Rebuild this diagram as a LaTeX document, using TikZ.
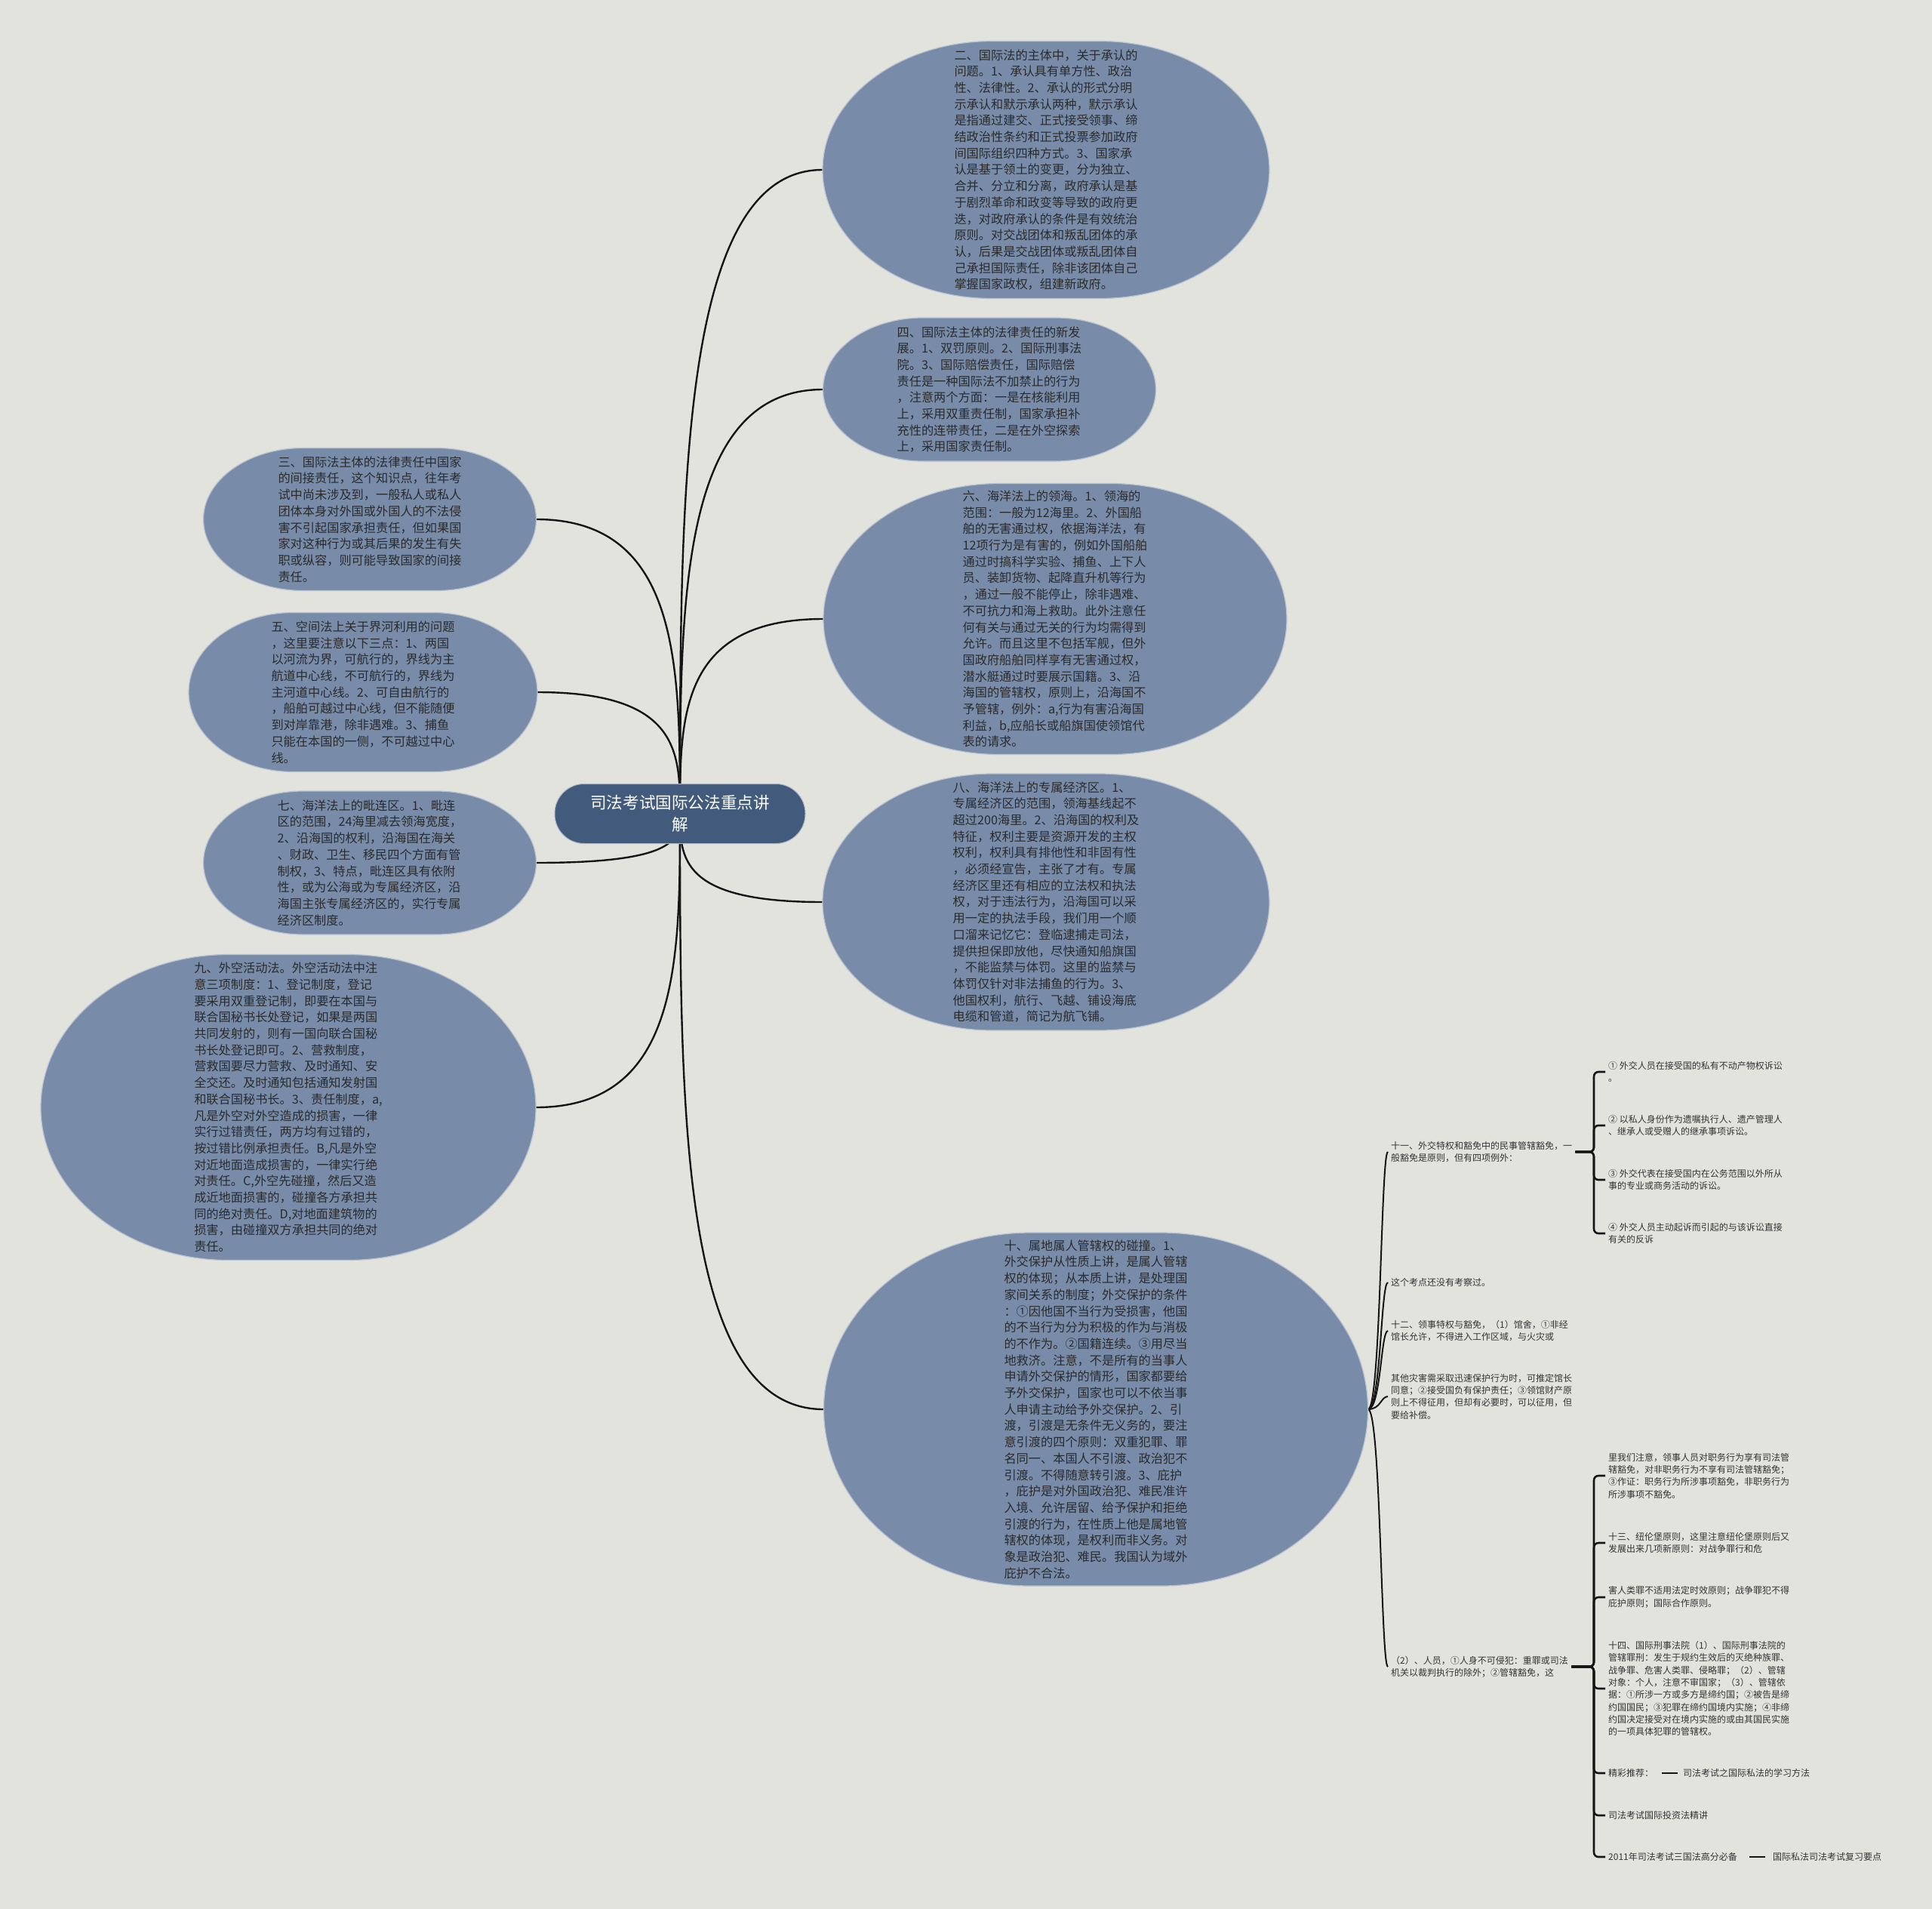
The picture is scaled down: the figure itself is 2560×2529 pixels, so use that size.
\documentclass[tikz,border=0pt]{standalone}
\usepackage{fontspec}
\setmainfont{Noto Sans CJK SC}
\usetikzlibrary{calc}
\pgfdeclarelayer{bgl}
\pgfdeclarelayer{back}
\pgfsetlayers{bgl,back,main}
\definecolor{bgc}{HTML}{E3E3DE}
\definecolor{blobc}{HTML}{788CAA}
\definecolor{blobline}{HTML}{B8C2D0}
\definecolor{rootc}{HTML}{425B7C}
\definecolor{txtc}{HTML}{2A2A2A}
\definecolor{smallc}{HTML}{333333}
\definecolor{linec}{HTML}{151515}
\tikzset{
 blobshape/.style={fill=blobc, draw=blobline, line width=1.2pt},
 blobtext/.style={align=left, text=txtc, font=\fontsize{16.2}{21.7}\selectfont, inner sep=0pt},
 rootnode/.style={fill=rootc, rounded corners=39pt, minimum width=332pt, minimum height=79pt, text=white, align=center, font=\fontsize{21.6}{28.5}\selectfont, inner sep=0pt, draw=white!55!rootc, line width=1pt},
 conn/.style={draw=linec, line width=2.4pt},
 subnode/.style={anchor=west, align=left, text=smallc, font=\fontsize{12}{16.3}\selectfont, inner xsep=4pt, inner ysep=0pt},
 subconn/.style={draw=linec, line width=2pt},
 brk/.style={draw=linec, line width=2.6pt, rounded corners=6pt},
 subline/.style={draw=linec, line width=2.6pt},
}
\newcommand\blob[5]{%
 \pgfmathsetmacro\bxa{#1-#3/2}%
 \pgfmathsetmacro\bxb{#1+#3/2}%
 \pgfmathsetmacro\bya{#2-#4/2}%
 \pgfmathsetmacro\byb{#2+#4/2}%
 \pgfmathsetmacro\brx{#5*#3}%
 \pgfmathsetmacro\bcr{0.5523*#5*#3}%
 \pgfmathsetmacro\bcy{0.5523*#4/2}%
 \path[blobshape] (\bxa+\brx,\bya) -- (\bxb-\brx,\bya)
   .. controls (\bxb-\brx+\bcr,\bya) and (\bxb,#2-\bcy) .. (\bxb,#2)
   .. controls (\bxb,#2+\bcy) and (\bxb-\brx+\bcr,\byb) .. (\bxb-\brx,\byb)
   -- (\bxa+\brx,\byb)
   .. controls (\bxa+\brx-\bcr,\byb) and (\bxa,#2+\bcy) .. (\bxa,#2)
   .. controls (\bxa,#2-\bcy) and (\bxa+\brx-\bcr,\bya) .. cycle;
}
\newcommand\mconn[2]{\draw[conn] let \p1=(#1), \p2=(#2) in (\p1) .. controls (\x1,{0.5*\y1+0.5*\y2}) and (\x1,\y2) .. (\p2);}
\newcommand\tconn[2]{\draw[subconn] let \p1=(#1), \p2=(#2) in (\p1) .. controls ({\x1+17pt},\y1) and ({\x1+17pt},\y2) .. (\p2);}
\begin{document}
\begin{tikzpicture}[x=1pt,y=-1pt]
\begin{pgfonlayer}{bgl}
\fill[bgc] (0,0) rectangle (2560,2529);
\end{pgfonlayer}
\useasboundingbox (0,0) rectangle (2560,2529);

% ---- blobs ----
\blob{1386}{225}{592}{341}{0.38}
\node[blobtext, minimum width=592pt, minimum height=341pt] (n2) at (1386,225) {二、国际法的主体中，关于承认的\\问题。1、承认具有单方性、政治\\性、法律性。2、承认的形式分明\\示承认和默示承认两种，默示承认\\是指通过建交、正式接受领事、缔\\结政治性条约和正式投票参加政府\\间国际组织四种方式。3、国家承\\认是基于领土的变更，分为独立、\\合并、分立和分离，政府承认是基\\于剧烈革命和政变等导致的政府更\\迭，对政府承认的条件是有效统治\\原则。对交战团体和叛乱团体的承\\认，后果是交战团体或叛乱团体自\\己承担国际责任，除非该团体自己\\掌握国家政权，组建新政府。};

\blob{1311}{516}{441}{190}{0.30}
\node[blobtext, minimum width=441pt, minimum height=190pt] (n4) at (1311,516) {四、国际法主体的法律责任的新发\\展。1、双罚原则。2、国际刑事法\\院。3、国际赔偿责任，国际赔偿\\责任是一种国际法不加禁止的行为\\，注意两个方面：一是在核能利用\\上，采用双重责任制，国家承担补\\充性的连带责任，二是在外空探索\\上，采用国家责任制。};

\blob{490}{688}{441}{189}{0.30}
\node[blobtext, minimum width=441pt, minimum height=189pt] (n3) at (490,688) {三、国际法主体的法律责任中国家\\的间接责任，这个知识点，往年考\\试中尚未涉及到，一般私人或私人\\团体本身对外国或外国人的不法侵\\害不引起国家承担责任，但如果国\\家对这种行为或其后果的发生有失\\职或纵容，则可能导致国家的间接\\责任。};

\blob{481}{917}{462}{211}{0.30}
\node[blobtext, minimum width=462pt, minimum height=211pt] (n5) at (481,917) {五、空间法上关于界河利用的问题\\，这里要注意以下三点：1、两国\\以河流为界，可航行的，界线为主\\航道中心线，不可航行的，界线为\\主河道中心线。2、可自由航行的\\，船舶可越过中心线，但不能随便\\到对岸靠港，除非遇难。3、捕鱼\\只能在本国的一侧，不可越过中心\\线。};

\blob{1398}{820}{614}{359}{0.38}
\node[blobtext, minimum width=614pt, minimum height=359pt] (n6) at (1398,820) {六、海洋法上的领海。1、领海的\\范围：一般为12海里。2、外国船\\舶的无害通过权，依据海洋法，有\\12项行为是有害的，例如外国船舶\\通过时搞科学实验、捕鱼、上下人\\员、装卸货物、起降直升机等行为\\，通过一般不能停止，除非遇难、\\不可抗力和海上救助。此外注意任\\何有关与通过无关的行为均需得到\\允许。而且这里不包括军舰，但外\\国政府船舶同样享有无害通过权，\\潜水艇通过时要展示国籍。3、沿\\海国的管辖权，原则上，沿海国不\\予管辖，例外：a,行为有害沿海国\\利益，b,应船长或船旗国使领馆代\\表的请求。};

\blob{490}{1143}{441}{190}{0.30}
\node[blobtext, minimum width=441pt, minimum height=190pt] (n7) at (490,1143) {七、海洋法上的毗连区。1、毗连\\区的范围，24海里减去领海宽度，\\2、沿海国的权利，沿海国在海关\\、财政、卫生、移民四个方面有管\\制权，3、特点，毗连区具有依附\\性，或为公海或为专属经济区，沿\\海国主张专属经济区的，实行专属\\经济区制度。};

\blob{1386}{1195}{592}{340}{0.38}
\node[blobtext, minimum width=592pt, minimum height=340pt] (n8) at (1386,1195) {八、海洋法上的专属经济区。1、\\专属经济区的范围，领海基线起不\\超过200海里。2、沿海国的权利及\\特征，权利主要是资源开发的主权\\权利，权利具有排他性和非固有性\\，必须经宣告，主张了才有。专属\\经济区里还有相应的立法权和执法\\权，对于违法行为，沿海国可以采\\用一定的执法手段，我们用一个顺\\口溜来记忆它：登临逮捕走司法，\\提供担保即放他，尽快通知船旗国\\，不能监禁与体罚。这里的监禁与\\体罚仅针对非法捕鱼的行为。3、\\他国权利，航行、飞越、铺设海底\\电缆和管道，简记为航飞铺。};

\blob{382}{1467}{656}{405}{0.38}
\node[blobtext, minimum width=656pt, minimum height=405pt] (n9) at (382,1467) {九、外空活动法。外空活动法中注\\意三项制度：1、登记制度，登记\\要采用双重登记制，即要在本国与\\联合国秘书长处登记，如果是两国\\共同发射的，则有一国向联合国秘\\书长处登记即可。2、营救制度，\\营救国要尽力营救、及时通知、安\\全交还。及时通知包括通知发射国\\和联合国秘书长。3、责任制度，a,\\凡是外空对外空造成的损害，一律\\实行过错责任，两方均有过错的，\\按过错比例承担责任。B,凡是外空\\对近地面造成损害的，一律实行绝\\对责任。C,外空先碰撞，然后又造\\成近地面损害的，碰撞各方承担共\\同的绝对责任。D,对地面建筑物的\\损害，由碰撞双方承担共同的绝对\\责任。};

\blob{1452}{1867}{721}{468}{0.38}
\node[blobtext, minimum width=721pt, minimum height=468pt] (n10) at (1452,1867) {十、属地属人管辖权的碰撞。1、\\外交保护从性质上讲，是属人管辖\\权的体现；从本质上讲，是处理国\\家间关系的制度；外交保护的条件\\：①因他国不当行为受损害，他国\\的不当行为分为积极的作为与消极\\的不作为。②国籍连续。③用尽当\\地救济。注意，不是所有的当事人\\申请外交保护的情形，国家都要给\\予外交保护，国家也可以不依当事\\人申请主动给予外交保护。2、引\\渡，引渡是无条件无义务的，要注\\意引渡的四个原则：双重犯罪、罪\\名同一、本国人不引渡、政治犯不\\引渡。不得随意转引渡。3、庇护\\，庇护是对外国政治犯、难民准许\\入境、允许居留、给予保护和拒绝\\引渡的行为，在性质上他是属地管\\辖权的体现，是权利而非义务。对\\象是政治犯、难民。我国认为域外\\庇护不合法。};

% ---- root ----
\node[rootnode] (root) at (901,1078) {司法考试国际公法重点讲\\解};

% ---- sub nodes of 十 ----
\node[subnode] (s11) at (1839,1526) {十一、外交特权和豁免中的民事管辖豁免，一\\般豁免是原则，但有四项例外：};
\node[subnode] (s11a) at (2127,1420) {① 外交人员在接受国的私有不动产物权诉讼\\。};
\node[subnode] (s11b) at (2127,1491) {② 以私人身份作为遗嘱执行人、遗产管理人\\、继承人或受赠人的继承事项诉讼。};
\node[subnode] (s11c) at (2127,1563) {③ 外交代表在接受国内在公务范围以外所从\\事的专业或商务活动的诉讼。};
\node[subnode] (s11d) at (2127,1634) {④ 外交人员主动起诉而引起的与该诉讼直接\\有关的反诉};
\node[subnode] (sk) at (1839,1699) {这个考点还没有考察过。};
\node[subnode] (s12) at (1839,1763) {十二、领事特权与豁免，（1）馆舍，①非经\\馆长允许，不得进入工作区域，与火灾或};
\node[subnode] (so) at (1839,1850) {其他灾害需采取迅速保护行为时，可推定馆长\\同意；②接受国负有保护责任；③领馆财产原\\则上不得征用，但却有必要时，可以征用，但\\要给补偿。};
\node[subnode] (s2) at (1839,2208) {（2）、人员，①人身不可侵犯：重罪或司法\\机关以裁判执行的除外；②管辖豁免，这};
\node[subnode] (s2a) at (2127,1955) {里我们注意，领事人员对职务行为享有司法管\\辖豁免，对非职务行为不享有司法管辖豁免；\\③作证：职务行为所涉事项豁免，非职务行为\\所涉事项不豁免。};
\node[subnode] (s2b) at (2127,2044) {十三、纽伦堡原则，这里注意纽伦堡原则后又\\发展出来几项新原则：对战争罪行和危};
\node[subnode] (s2c) at (2127,2116) {害人类罪不适用法定时效原则；战争罪犯不得\\庇护原则；国际合作原则。};
\node[subnode] (s2d) at (2127,2237) {十四、国际刑事法院（1）、国际刑事法院的\\管辖罪刑：发生于规约生效后的灭绝种族罪、\\战争罪、危害人类罪、侵略罪；（2）、管辖\\对象：个人，注意不审国家；（3）、管辖依\\据：①所涉一方或多方是缔约国；②被告是缔\\约国国民；③犯罪在缔约国境内实施；④非缔\\约国决定接受对在境内实施的或由其国民实施\\的一项具体犯罪的管辖权。};
\node[subnode] (s2e) at (2127,2349) {精彩推荐：};
\node[subnode] (s2e1) at (2226,2349) {司法考试之国际私法的学习方法};
\node[subnode] (s2f) at (2127,2405) {司法考试国际投资法精讲};
\node[subnode] (s2g) at (2127,2460) {2011年司法考试三国法高分必备};
\node[subnode] (s2g1) at (2345,2460) {国际私法司法考试复习要点};
\coordinate (bk) at (2112,0);

% ---- connectors ----
\begin{pgfonlayer}{back}
\mconn{root.center}{n2.west}
\mconn{root.center}{n4.west}
\mconn{root.center}{n6.west}
\mconn{root.center}{n8.west}
\mconn{root.center}{n10.west}
\mconn{root.center}{n3.east}
\mconn{root.center}{n5.east}
\mconn{root.center}{n7.east}
\mconn{root.center}{n9.east}
\tconn{n10.east}{s11.west}
\tconn{n10.east}{sk.west}
\tconn{n10.east}{s12.west}
\tconn{n10.east}{so.west}
\tconn{n10.east}{s2.west}
\foreach \c in {s11a,s11b,s11c,s11d}{\draw[brk] (s11.east) -- (s11.east -| bk) |- (\c.west);}
\foreach \c in {s2a,s2b,s2c,s2d,s2e,s2f,s2g}{\draw[brk] (s2.east) -- (s2.east -| bk) |- (\c.west);}
\draw[subline] ($(s2e.east)+(7,0)$) -- ($(s2e1.west)+(-3,0)$);
\draw[subline] ($(s2g.east)+(12,0)$) -- ($(s2g1.west)+(-6,0)$);
\end{pgfonlayer}
\end{tikzpicture}
\end{document}
